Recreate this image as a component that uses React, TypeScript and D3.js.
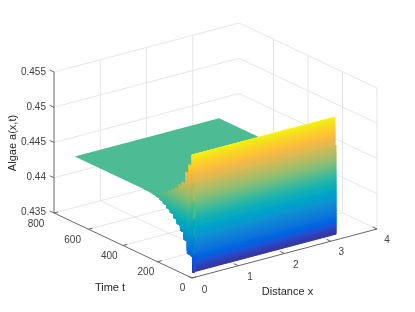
import * as d3 from 'd3';

const xTicks = [0, 1, 2, 3, 4];
const tTicks = [0, 200, 400, 600, 800];
const zTicks = [0.435, 0.44, 0.445, 0.45, 0.455];
const zLabels = ['0.435', '0.44', '0.445', '0.45', '0.455'];

// surface grid. The time steps show up as stairs in the plot
const tRows = [0, 6, 12, 30, 50, 70, 90, 110, 130, 150, 170, 190, 210, 230, 250, 270, 290];
const xCols = [0, 0.04, 3.12];
const tEnd = 680;
const plateauA = 0.4444;
// value along x = 0 for each time row
const edgeA = [0.43575, 0.43795, 0.438, 0.4381, 0.4399, 0.4409, 0.44165, 0.44225, 0.4428, 0.4432, 0.4436, 0.4439, 0.44412, 0.44424, 0.44432, 0.44438, 0.4444];
// value away from the boundary for each time row
const innerA = [0.43575, 0.4484, 0.4523, 0.4507, 0.4494, 0.4478, 0.4472, 0.4466, 0.4461, 0.4457, 0.4453, 0.445, 0.4448, 0.4446, 0.4445, 0.4444, 0.4444];

const parula = [
  '#352a87', '#353dad', '#2053d4', '#0363e1', '#0d75dc', '#1485d4', '#0998d1', '#06a7c6', '#15b1b4', '#38b99e',
  '#65be86', '#92bf73', '#b7bd64', '#d9ba56', '#f8bb44', '#fec832', '#f7d826', '#f5eb18', '#f9fb0e',
];
const parulaAt = [0, 3, 6, 8, 12, 16, 20, 24, 28, 32, 36, 40, 44, 48, 52, 55, 58, 61, 63];

const ox = 192;
const oy = 278;
const sxX = d3.scaleLinear().domain([0, 4]).range([0, 185]);
const syX = d3.scaleLinear().domain([0, 4]).range([0, -49]);
const sxT = d3.scaleLinear().domain([0, 800]).range([0, -138]);
const syT = d3.scaleLinear().domain([0, 800]).range([0, -65]);
const syZ = d3.scaleLinear().domain([0.435, 0.455]).range([0, -141]);

const project = (x: number, t: number, z: number): [number, number] => [
  ox + sxX(x) + sxT(t),
  oy + syX(x) + syT(t) + syZ(z),
];

const color = d3
  .scaleLinear<string>()
  .domain(parulaAt.map((k) => 0.4352 + (k / 63) * (0.4523 - 0.4352)))
  .range(parula)
  .interpolate(d3.interpolateRgb)
  .clamp(true);

const closedLine = d3.line().curve(d3.curveLinearClosed);

type Cell = { d: string; fill: string };
type Row = { t: number; edge: number; inner: number };

// rows for the shading, the stair clip below cuts them to the real outline.
// the first one starts a bit early so the face covers the whole first riser
function shadeRows(): Row[] {
  const rows: Row[] = [
    { t: tRows[0] - tRows[1], edge: edgeA[0], inner: innerA[0] },
    { t: tRows[0], edge: edgeA[1], inner: innerA[1] },
    { t: tRows[1], edge: edgeA[2], inner: innerA[2] },
  ];
  for (let k = 2; k < tRows.length; k++) {
    rows.push({ t: tRows[k], edge: edgeA[k], inner: innerA[k] });
  }
  return rows;
}

function surfaceCells(): Cell[] {
  const cells: Cell[] = [];
  const rows = shadeRows();
  const val = (i: number, j: number) => (j === 0 ? rows[i].edge : rows[i].inner);
  for (let i = rows.length - 2; i >= 0; i--) {
    for (let j = xCols.length - 2; j >= 0; j--) {
      const z00 = val(i, j);
      const z01 = val(i, j + 1);
      const z10 = val(i + 1, j);
      const z11 = val(i + 1, j + 1);
      // the thin boundary face needs short columns, the wall only needs bands across t
      const bandsT = Math.max(1, Math.ceil((Math.max(Math.abs(z10 - z00), Math.abs(z11 - z01)) * 7050) / 1.2));
      const nt = j === 0 ? 5 : bandsT;
      const nx = j === 0 ? Math.max(1, Math.ceil((Math.max(Math.abs(z01 - z00), Math.abs(z11 - z10)) * 7050) / 1.5)) : 1;
      const at = (u: number, v: number): [number, number, number] => [
        d3.interpolateNumber(xCols[j], xCols[j + 1])(v),
        d3.interpolateNumber(rows[i].t, rows[i + 1].t)(u),
        d3.interpolateNumber(d3.interpolateNumber(z00, z01)(v), d3.interpolateNumber(z10, z11)(v))(u),
      ];
      // each band reaches over the next ones, which paint over it, so the seams stay closed
      for (let a = nt - 1; a >= 0; a--) {
        for (let b = 0; b < nx; b++) {
          const u1 = j === 0 ? (a + 1) / nt : Math.min(1, (a + 3) / nt);
          const v1 = Math.min(1, (b + 3) / nx);
          const pts = [at(a / nt, b / nx), at(a / nt, v1), at(u1, v1), at(u1, b / nx)];
          const mid = at((a + 0.5) / nt, (b + 0.5) / nx);
          cells.push({
            d: closedLine(pts.map((p) => project(p[0], p[1], p[2]))) || '',
            fill: color(mid[2]),
          });
        }
      }
    }
  }
  return cells;
}

// outline of the coloured part with the time steps as stairs
function stairOutline(): string {
  const xEnd = xCols[xCols.length - 1];
  const pts: [number, number][] = [project(0, tRows[0], edgeA[0]), project(xEnd, tRows[0], edgeA[0])];
  pts.push(project(xEnd, tRows[0], innerA[1]), project(xEnd, tRows[1], innerA[1]));
  pts.push(project(xEnd, tRows[1], innerA[2]), project(xEnd, tRows[2], innerA[2]));
  for (let k = 3; k < tRows.length; k++) {
    pts.push(project(xCols[1], tRows[k - 1], innerA[k - 1]), project(xCols[1], tRows[k - 1], innerA[k]));
  }
  for (let k = tRows.length - 1; k >= 1; k--) {
    pts.push(project(0, tRows[k], edgeA[k]), project(0, tRows[k - 1], edgeA[k]));
  }
  return closedLine(pts) || '';
}

const seg = (a: [number, number], b: [number, number]) => `M${a[0]},${a[1]}L${b[0]},${b[1]}`;

export default function App() {
  const zMin = 0.435;
  const zMax = 0.455;
  const xEnd = xCols[xCols.length - 1];
  const grid: string[] = [];
  zTicks.forEach((z) => {
    grid.push(seg(project(0, 800, z), project(4, 800, z)));
    grid.push(seg(project(4, 800, z), project(4, 0, z)));
  });
  xTicks.slice(1, 4).forEach((x) => {
    grid.push(seg(project(x, 800, zMin), project(x, 800, zMax)));
    grid.push(seg(project(x, 800, zMin), project(x, 0, zMin)));
  });
  tTicks.slice(0, 4).forEach((t) => {
    grid.push(seg(project(4, t, zMin), project(4, t, zMax)));
  });
  tTicks.slice(1, 4).forEach((t) => {
    grid.push(seg(project(0, t, zMin), project(4, t, zMin)));
  });

  const axes: string[] = [
    seg(project(0, 800, zMin), project(0, 800, zMax)),
    seg(project(0, 800, zMin), project(0, 0, zMin)),
    seg(project(0, 0, zMin), project(4, 0, zMin)),
  ];
  zTicks.forEach((z) => axes.push(seg(project(0, 800, z), project(0, 825, z))));
  tTicks.forEach((t) => axes.push(seg(project(0, t, zMin), project(0.09, t, zMin))));
  xTicks.forEach((x) => axes.push(seg(project(x, 0, zMin), project(x, 25, zMin))));

  const plateau = closedLine([
    project(0, tEnd, plateauA),
    project(xEnd, tEnd, plateauA),
    project(xEnd, tRows[2], plateauA),
    project(0, tRows[2], plateauA),
  ]);

  const tickText = { fontFamily: '"Liberation Sans", Arial, sans-serif', fontSize: 10, fill: '#404040' };
  const labelText = { fontFamily: '"Liberation Sans", Arial, sans-serif', fontSize: 11, fill: '#262626' };
  const tPos = d3.scaleLinear().domain([0, 800]).range([182.5, 36]);
  const tPosY = d3.scaleLinear().domain([0, 800]).range([287, 223]);
  const xPos = d3.scaleLinear().domain([0, 4]).range([204.5, 387]);
  const xPosY = d3.scaleLinear().domain([0, 4]).range([289, 239]);
  const zPos = d3.scaleLinear().domain([0.435, 0.455]).range([211, 71]);

  return (
    <svg width={415} height={312} style={{ position: 'absolute', left: 0, top: 0, background: '#fff' }}>
      <defs>
        <filter id="soft" x="0" y="0" width="100%" height="100%">
          <feGaussianBlur stdDeviation={0.4} />
        </filter>
        <clipPath id="stairs">
          <path d={stairOutline()} />
        </clipPath>
      </defs>
      <rect width={415} height={312} fill="#fff" />
      <g filter="url(#soft)">
        <path d={grid.join('')} stroke="#e4e4e4" strokeWidth={1} fill="none" />
        <path d={plateau || ''} fill={color(plateauA)} />
        <g clipPath="url(#stairs)">
          {surfaceCells().map((c, i) => (
            <path key={i} d={c.d} fill={c.fill} stroke={c.fill} strokeWidth={0.5} />
          ))}
        </g>
        <path d={axes.join('')} stroke="#666" strokeWidth={1} fill="none" />
        {zTicks.map((z, i) => (
          <text key={z} x={46} y={zPos(z)} textAnchor="end" dominantBaseline="central" {...tickText}>
            {zLabels[i]}
          </text>
        ))}
        {tTicks.map((t) => (
          <text key={t} x={tPos(t)} y={tPosY(t)} textAnchor="middle" dominantBaseline="central" {...tickText}>
            {t}
          </text>
        ))}
        {xTicks.map((x) => (
          <text key={x} x={xPos(x)} y={xPosY(x)} textAnchor="middle" dominantBaseline="central" {...tickText}>
            {x}
          </text>
        ))}
        <text x={110} y={287} textAnchor="middle" dominantBaseline="central" {...labelText}>
          Time t
        </text>
        <text x={287.5} y={291} textAnchor="middle" dominantBaseline="central" {...labelText}>
          Distance x
        </text>
        <text
          transform="translate(12,143) rotate(-90)"
          textAnchor="middle"
          dominantBaseline="central"
          {...labelText}
        >
          Algae a(x,t)
        </text>
      </g>
    </svg>
  );
}
